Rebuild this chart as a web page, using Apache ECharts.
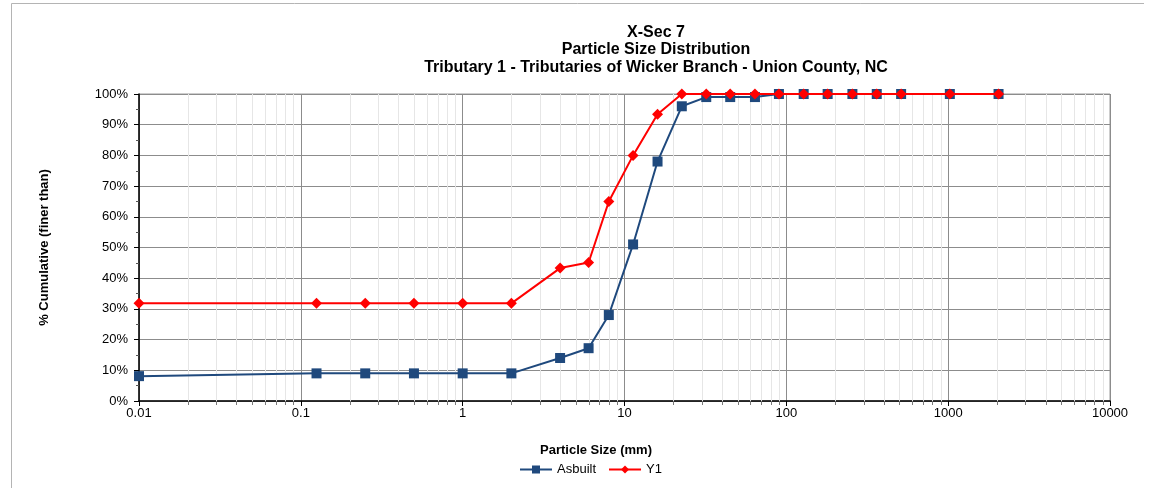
<!DOCTYPE html>
<html>
<head>
<meta charset="utf-8">
<script src="https://cdn.jsdelivr.net/npm/echarts@6/dist/echarts.min.js"></script>
<style>
html,body{margin:0;padding:0;background:#fff;}
#chart{width:1154px;height:488px;}
</style>
</head>
<body>
<div id="chart"></div>
<script>
// Particle sizes (mm)
const sizes = [0.01, 0.125, 0.25, 0.5, 1, 2, 4, 6, 8, 11.3, 16, 22.6, 32, 45, 64, 90, 128, 180, 256, 362, 512, 1024, 2048];
// % cumulative finer than
const asbuilt = [8.1, 9, 9, 9, 9, 9, 14, 17.2, 28, 51, 78, 96, 99, 99, 99, 100, 100, 100, 100, 100, 100, 100, 100];
const y1 = [31.8, 31.8, 31.8, 31.8, 31.8, 31.8, 43.3, 45.1, 65, 80, 93.4, 100, 100, 100, 100, 100, 100, 100, 100, 100, 100, 100, 100];
const xTickLabels = ['0.01', '0.1', '1', '10', '100', '1000', '10000'];
const titleLines = ['X-Sec 7', 'Particle Size Distribution', 'Tributary 1 - Tributaries of Wicker Branch - Union County, NC'];

// minor log gridline values (2..9 in each decade)
const minorVals = [];
for (let e = -2; e < 4; e++) {
  for (let m = 2; m <= 9; m++) minorVals.push([m * Math.pow(10, e), 0]);
}

const FONT = '"Liberation Sans", Arial, sans-serif';
const chart = echarts.init(document.getElementById('chart'));

const pair = (xs, ys) => xs.map((x, i) => [x, ys[i]]);

chart.setOption({
  animation: false,
  backgroundColor: '#fff',
  textStyle: { fontFamily: FONT },
  graphic: [
    { type: 'line', shape: { x1: 11.5, y1: 3.5, x2: 1144, y2: 3.5 }, style: { stroke: '#b4b4b4', lineWidth: 1 } },
    { type: 'line', shape: { x1: 11.5, y1: 3.5, x2: 11.5, y2: 488 }, style: { stroke: '#b4b4b4', lineWidth: 1 } },
    { type: 'text', x: 656, y: 33, style: { text: titleLines[0], font: 'bold 16px ' + FONT, fill: '#000', textAlign: 'center', textVerticalAlign: 'middle' } },
    { type: 'text', x: 656, y: 50, style: { text: titleLines[1], font: 'bold 16px ' + FONT, fill: '#000', textAlign: 'center', textVerticalAlign: 'middle' } },
    { type: 'text', x: 656, y: 68, style: { text: titleLines[2], font: 'bold 16px ' + FONT, fill: '#000', textAlign: 'center', textVerticalAlign: 'middle' } },
    { type: 'text', x: 596, y: 450, style: { text: 'Particle Size (mm)', font: 'bold 13px ' + FONT, fill: '#000', textAlign: 'center', textVerticalAlign: 'middle' } }
  ],
  grid: { left: 139, right: 44, top: 94, bottom: 87, show: true, borderColor: '#9a9a9a', borderWidth: 1, backgroundColor: 'transparent' },
  legend: {
    data: ['Asbuilt', 'Y1'],
    left: 514, top: 458,
    itemWidth: 32, itemHeight: 10, itemGap: 12,
    textStyle: { fontFamily: FONT, fontSize: 13, color: '#000' }
  },
  xAxis: {
    type: 'log', logBase: 10, min: 0.01, max: 10000,
    axisLine: { show: true, onZero: false, lineStyle: { color: '#000', width: 1.5 } },
    axisTick: { show: true, length: 5, lineStyle: { color: '#000' } },
    axisLabel: {
      fontSize: 13, color: '#000', margin: 6, fontFamily: FONT,
      formatter: function (v) {
        const e = Math.round(Math.log10(v));
        return xTickLabels[e + 2] !== undefined ? xTickLabels[e + 2] : '';
      }
    },
    splitLine: { show: true, lineStyle: { color: '#8c8c8c', width: 1 } },
    minorTick: { show: false },
    minorSplitLine: { show: false }
  },
  yAxis: {
    type: 'value', min: 0, max: 100, interval: 10,
    name: '% Cumulative (finer than)', nameLocation: 'middle', nameGap: 88, nameRotate: 90,
    nameTextStyle: { fontFamily: FONT, fontSize: 13, fontWeight: 'bold', color: '#000' },
    axisLine: { show: true, lineStyle: { color: '#000', width: 1.5 } },
    axisTick: { show: true, length: 5, lineStyle: { color: '#000' } },
    minorTick: { show: true, splitNumber: 2, length: 3, lineStyle: { color: '#555' } },
    axisLabel: { fontSize: 13, color: '#000', margin: 11, formatter: '{value}%', fontFamily: FONT },
    splitLine: { show: true, lineStyle: { color: '#8c8c8c', width: 1 } }
  },
  series: [
    {
      name: 'minorGrid', type: 'custom', silent: true, z: 1, clip: false,
      data: minorVals,
      encode: { x: 0, y: 1 },
      renderItem: function (params, api) {
        const x = api.value(0);
        const top = api.coord([x, 100]);
        const bot = api.coord([x, 0]);
        const px = Math.round(top[0]) + 0.5;
        return {
          type: 'group',
          children: [
            { type: 'line', shape: { x1: px, y1: top[1], x2: px, y2: bot[1] }, style: { stroke: '#e6e6e6', lineWidth: 1 } },
            { type: 'line', shape: { x1: px, y1: bot[1], x2: px, y2: bot[1] + 4 }, style: { stroke: '#777', lineWidth: 1 } }
          ]
        };
      }
    },
    {
      name: 'Asbuilt', type: 'line', z: 3,
      data: pair(sizes, asbuilt),
      symbol: 'rect', symbolSize: 10,
      itemStyle: { color: '#1f497d' },
      lineStyle: { color: '#1f497d', width: 2 }
    },
    {
      name: 'Y1', type: 'line', z: 4,
      data: pair(sizes, y1),
      symbol: 'diamond', symbolSize: 11,
      itemStyle: { color: '#ff0000' },
      lineStyle: { color: '#ff0000', width: 2 }
    }
  ]
});
</script>
</body>
</html>
